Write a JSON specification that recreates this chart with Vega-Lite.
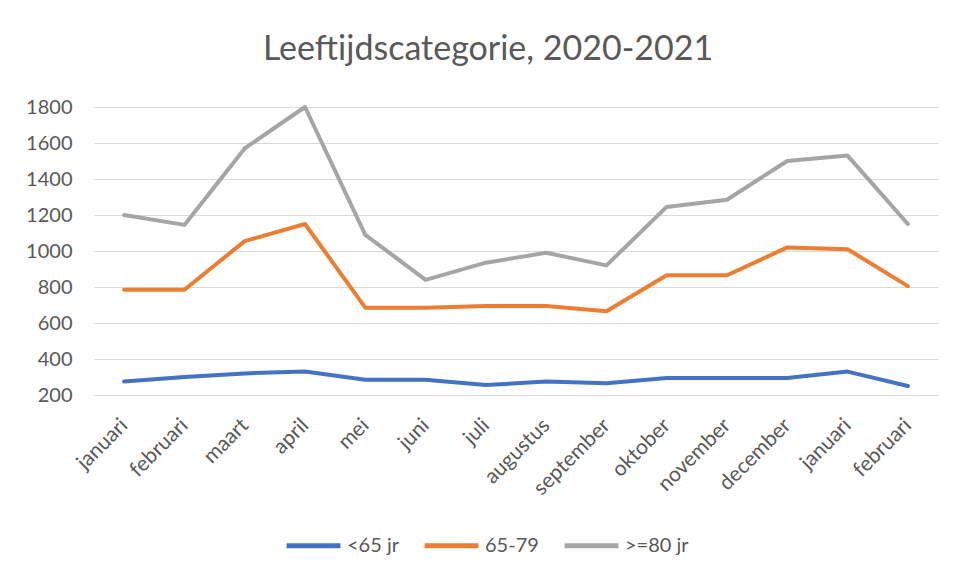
{
  "$schema": "https://vega.github.io/schema/vega-lite/v6.json",
  "width": 844,
  "height": 288,
  "autosize": "none",
  "padding": {"left": 94, "top": 107, "right": 16, "bottom": 181},
  "background": "white",
  "title": {
    "text": "Leeftijdscategorie, 2020-2021",
    "font": "Lato",
    "fontSize": 34,
    "fontWeight": "normal",
    "color": "#595959",
    "anchor": "middle",
    "offset": 30,
    "dx": -28
  },
  "data": {
    "values": [
      {"maand": "januari 2020", "groep": "<65 jr", "waarde": 275},
      {"maand": "februari 2020", "groep": "<65 jr", "waarde": 300},
      {"maand": "maart 2020", "groep": "<65 jr", "waarde": 320},
      {"maand": "april 2020", "groep": "<65 jr", "waarde": 330},
      {"maand": "mei 2020", "groep": "<65 jr", "waarde": 285},
      {"maand": "juni 2020", "groep": "<65 jr", "waarde": 285},
      {"maand": "juli 2020", "groep": "<65 jr", "waarde": 255},
      {"maand": "augustus 2020", "groep": "<65 jr", "waarde": 275},
      {"maand": "september 2020", "groep": "<65 jr", "waarde": 265},
      {"maand": "oktober 2020", "groep": "<65 jr", "waarde": 295},
      {"maand": "november 2020", "groep": "<65 jr", "waarde": 295},
      {"maand": "december 2020", "groep": "<65 jr", "waarde": 295},
      {"maand": "januari 2021", "groep": "<65 jr", "waarde": 330},
      {"maand": "februari 2021", "groep": "<65 jr", "waarde": 250},
      {"maand": "januari 2020", "groep": "65-79", "waarde": 785},
      {"maand": "februari 2020", "groep": "65-79", "waarde": 785},
      {"maand": "maart 2020", "groep": "65-79", "waarde": 1055},
      {"maand": "april 2020", "groep": "65-79", "waarde": 1150},
      {"maand": "mei 2020", "groep": "65-79", "waarde": 685},
      {"maand": "juni 2020", "groep": "65-79", "waarde": 685},
      {"maand": "juli 2020", "groep": "65-79", "waarde": 695},
      {"maand": "augustus 2020", "groep": "65-79", "waarde": 695},
      {"maand": "september 2020", "groep": "65-79", "waarde": 665},
      {"maand": "oktober 2020", "groep": "65-79", "waarde": 865},
      {"maand": "november 2020", "groep": "65-79", "waarde": 865},
      {"maand": "december 2020", "groep": "65-79", "waarde": 1020},
      {"maand": "januari 2021", "groep": "65-79", "waarde": 1010},
      {"maand": "februari 2021", "groep": "65-79", "waarde": 805},
      {"maand": "januari 2020", "groep": ">=80 jr", "waarde": 1200},
      {"maand": "februari 2020", "groep": ">=80 jr", "waarde": 1145},
      {"maand": "maart 2020", "groep": ">=80 jr", "waarde": 1570},
      {"maand": "april 2020", "groep": ">=80 jr", "waarde": 1800},
      {"maand": "mei 2020", "groep": ">=80 jr", "waarde": 1090},
      {"maand": "juni 2020", "groep": ">=80 jr", "waarde": 840},
      {"maand": "juli 2020", "groep": ">=80 jr", "waarde": 935},
      {"maand": "augustus 2020", "groep": ">=80 jr", "waarde": 990},
      {"maand": "september 2020", "groep": ">=80 jr", "waarde": 920},
      {"maand": "oktober 2020", "groep": ">=80 jr", "waarde": 1245},
      {"maand": "november 2020", "groep": ">=80 jr", "waarde": 1285},
      {"maand": "december 2020", "groep": ">=80 jr", "waarde": 1500},
      {"maand": "januari 2021", "groep": ">=80 jr", "waarde": 1530},
      {"maand": "februari 2021", "groep": ">=80 jr", "waarde": 1150}
    ]
  },
  "mark": {"type": "line", "strokeWidth": 4, "strokeCap": "round", "strokeJoin": "round"},
  "encoding": {
    "x": {
      "field": "maand",
      "type": "ordinal",
      "sort": null,
      "scale": {"type": "point", "padding": 0.5},
      "axis": {
        "title": null,
        "labelExpr": "split(datum.label, ' ')[0]",
        "labelAngle": -45,
        "labelAlign": "right",
        "labelBaseline": "middle",
        "labelFont": "Lato",
        "labelFontSize": 21,
        "labelColor": "#595959",
        "labelPadding": 27,
        "ticks": false,
        "domain": false,
        "grid": false
      }
    },
    "y": {
      "field": "waarde",
      "type": "quantitative",
      "scale": {"domain": [200, 1800], "nice": false, "zero": false},
      "axis": {
        "title": null,
        "format": "d",
        "values": [200, 400, 600, 800, 1000, 1200, 1400, 1600, 1800],
        "labelFont": "Lato",
        "labelFontSize": 20,
        "labelColor": "#595959",
        "labelPadding": 22,
        "ticks": false,
        "domain": false,
        "gridColor": "#D9D9D9",
        "gridWidth": 1
      }
    },
    "color": {
      "field": "groep",
      "type": "nominal",
      "sort": ["<65 jr", "65-79", ">=80 jr"],
      "scale": {"domain": ["<65 jr", "65-79", ">=80 jr"], "range": ["#4472C4", "#ED7D31", "#A5A5A5"]},
      "legend": {
        "title": null,
        "orient": "none",
        "direction": "horizontal",
        "legendX": 190,
        "legendY": 409,
        "symbolType": "stroke",
        "symbolStrokeWidth": 5,
        "symbolSize": 2900,
        "labelFont": "Lato",
        "labelFontSize": 20,
        "labelColor": "#595959",
        "columnPadding": 15,
        "labelOffset": 4
      }
    }
  },
  "config": {"view": {"stroke": null}}
}
